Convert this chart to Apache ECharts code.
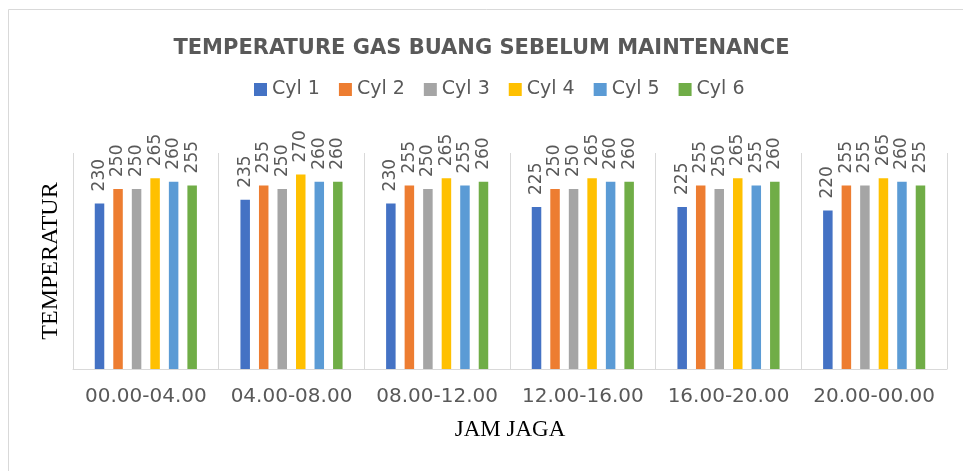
<!DOCTYPE html>
<html>
<head>
<meta charset="utf-8">
<title>Temperature Gas Buang</title>
<script src="https://cdn.jsdelivr.net/npm/echarts@6.0.0/dist/echarts.min.js"></script>
<style>
  html, body { margin: 0; padding: 0; background: #ffffff; }
  #chart { width: 963px; height: 471px; }
</style>
</head>
<body>
<div id="chart"></div>
<script>
// data
const jamJaga = ['00.00-04.00', '04.00-08.00', '08.00-12.00', '12.00-16.00', '16.00-20.00', '20.00-00.00']
const cylNames = ['Cyl 1', 'Cyl 2', 'Cyl 3', 'Cyl 4', 'Cyl 5', 'Cyl 6']
const cyl1 = [230, 235, 230, 225, 225, 220]
const cyl2 = [250, 255, 255, 250, 255, 255]
const cyl3 = [250, 250, 250, 250, 250, 255]
const cyl4 = [265, 270, 265, 265, 265, 265]
const cyl5 = [260, 260, 255, 260, 255, 260]
const cyl6 = [255, 260, 260, 260, 260, 255]
const cylColors = ['#4472C4', '#ED7D31', '#A5A5A5', '#FFC000', '#5B9BD5', '#70AD47']

const chart = echarts.init(document.getElementById('chart'))

const makeSeries = (name, data, color) => ({
  name: name,
  type: 'bar',
  data: data,
  barWidth: 9.5,
  barGap: '95%',
  itemStyle: { color: color },
  label: {
    show: true,
    position: 'top',
    rotate: 90,
    align: 'left',
    verticalAlign: 'middle',
    distance: 12,
    color: '#595959',
    fontFamily: 'DejaVu Sans',
    fontSize: 17
  }
})

const allCyl = [cyl1, cyl2, cyl3, cyl4, cyl5, cyl6]

const option = {
  backgroundColor: '#ffffff',
  animation: false,
  title: {
    text: 'TEMPERATURE GAS BUANG SEBELUM MAINTENANCE',
    left: 'center',
    top: 33,
    textStyle: {
      color: '#595959',
      fontFamily: 'DejaVu Sans',
      fontWeight: 'bold',
      fontSize: 21
    }
  },
  legend: {
    data: cylNames,
    left: 254,
    top: 80,
    padding: 0,
    itemWidth: 13,
    itemHeight: 13,
    itemGap: 19,
    icon: 'rect',
    textStyle: { color: '#595959', fontFamily: 'DejaVu Sans', fontSize: 19 }
  },
  // thin frame around the chart area, like the spreadsheet chart border
  graphic: [
    {
      type: 'rect',
      shape: { x: 8.5, y: 9.5, width: 980, height: 480 },
      style: { fill: 'none', stroke: '#d9d9d9', lineWidth: 1 },
      silent: true
    }
  ],
  grid: { left: 73, right: 16, top: 153, bottom: 102 },
  xAxis: {
    type: 'category',
    data: jamJaga,
    name: 'JAM JAGA',
    nameLocation: 'middle',
    nameGap: 49,
    nameTextStyle: { color: '#000000', fontFamily: 'Liberation Serif', fontSize: 23 },
    axisLine: { show: true, lineStyle: { color: '#d9d9d9', width: 1 } },
    axisTick: { show: false },
    splitLine: { show: true, interval: 0, lineStyle: { color: '#d9d9d9', width: 1 } },
    axisLabel: {
      interval: 0,
      margin: 18,
      color: '#595959',
      fontFamily: 'DejaVu Sans',
      fontSize: 20
    }
  },
  yAxis: {
    type: 'value',
    min: 0,
    max: 300,
    name: 'TEMPERATUR',
    nameLocation: 'middle',
    nameGap: 10,
    nameTextStyle: { color: '#000000', fontFamily: 'Liberation Serif', fontSize: 24 },
    axisLine: { show: false },
    axisTick: { show: false },
    axisLabel: { show: false },
    splitLine: { show: false }
  },
  series: cylNames.map((n, i) => makeSeries(n, allCyl[i], cylColors[i]))
}

chart.setOption(option)

window.addEventListener('resize', () => chart.resize())
</script>
</body>
</html>
